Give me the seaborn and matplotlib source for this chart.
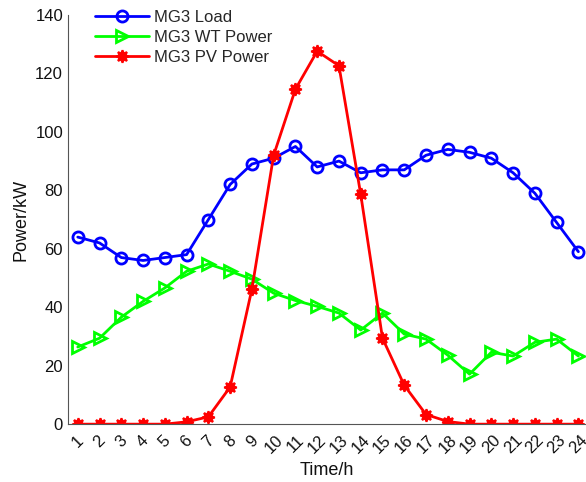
import numpy as np
import pandas as pd
import matplotlib
matplotlib.use("Agg")
import matplotlib.pyplot as plt
import seaborn as sns

hours = list(range(1, 25))
load = [64, 62, 57, 56, 57, 58, 70, 82, 89, 91, 95, 88, 90, 86, 87, 87, 92, 94, 93, 91, 86, 79, 69, 59]
wt = [26.4, 29.4, 36.6, 42, 46.6, 52.3, 54.8, 52.3, 49.6, 44.8, 42.3, 40.3, 38, 32.2, 38, 30.8, 29.1, 23.6, 17.1, 24.6, 23.3, 28, 29.1, 23.3]
pv = [0, 0, 0, 0, 0, 0.8, 2.5, 12.7, 46.2, 92, 114.6, 127.6, 122.6, 78.6, 29.4, 13.3, 3.3, 0.9, 0, 0, 0, 0, 0, 0]
labels = ["MG3 Load", "MG3 WT Power", "MG3 PV Power"]

sns.set_theme(style="white")
plt.rcParams['font.family'] = ['Liberation Sans', 'DejaVu Sans']

fig = plt.figure(figsize=(5.86, 4.82), dpi=100)
ax = fig.add_axes([0.116, 0.120, 0.884, 0.849])

df = pd.DataFrame({"h": hours, "load": load, "wt": wt, "pv": pv})
sns.lineplot(data=df, x="h", y="load", ax=ax, color="#0000ff", lw=2, marker="o",
             markersize=8, mfc="none", mec="#0000ff", markeredgewidth=2, label=labels[0])
sns.lineplot(data=df, x="h", y="wt", ax=ax, color="#00ff00", lw=2, marker=">",
             markersize=9, mfc="none", mec="#00ff00", markeredgewidth=2, label=labels[1])
sns.lineplot(data=df, x="h", y="pv", ax=ax, color="#ff0000", lw=2, marker=(8, 1, 0),
             markersize=9, mfc="#ff0000", mec="#ff0000", markeredgewidth=1.5, label=labels[2])

ax.set_xlim(0.55, 24.35)
ax.set_ylim(0, 140)
ax.set_yticks(range(0, 141, 20))
ax.set_xticks(hours)
ax.set_xticklabels([str(h) for h in hours], rotation=45, ha="center", va="top")
ax.tick_params(axis="both", direction="in", length=4, color="#555555", labelsize=12, labelcolor="#111111")
ax.tick_params(axis="x", pad=6)
for s in ["top", "right"]:
    ax.spines[s].set_visible(False)
for s in ["left", "bottom"]:
    ax.spines[s].set_color("#555555")
    ax.spines[s].set_linewidth(0.8)
ax.set_xlabel("Time/h", fontsize=13, color="#111111")
ax.set_ylabel("Power/kW", fontsize=13, color="#111111")
ax.legend(loc="upper left", frameon=False, fontsize=12, handlelength=3.2,
          bbox_to_anchor=(0.04, 1.028), borderaxespad=0, labelspacing=0.3, handletextpad=0.3)

fig.savefig("out.png", dpi=100)
